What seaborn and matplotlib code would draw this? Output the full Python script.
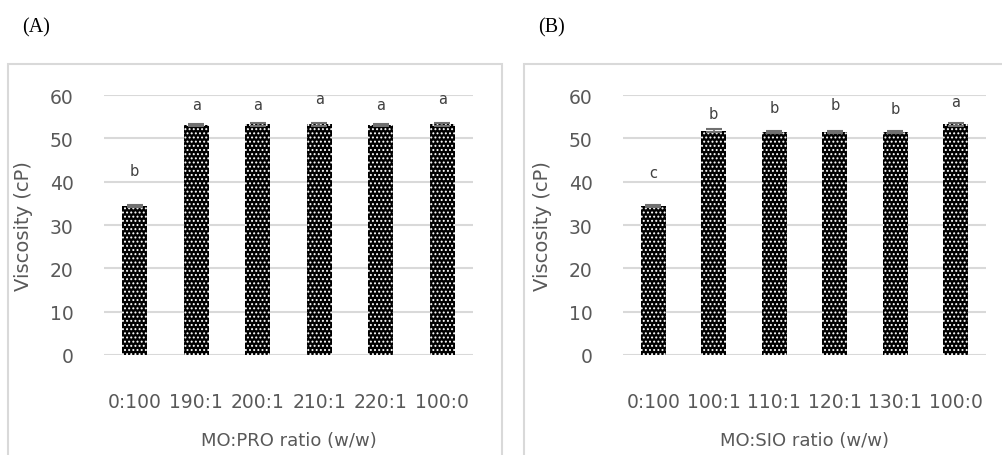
"""Viscosity of MO:PRO and MO:SIO blends, two panel bar chart"""
import matplotlib
matplotlib.use("Agg")
import matplotlib.pyplot as plt
import seaborn as sns
import pandas as pd
from matplotlib.patches import Rectangle

# Panel A - MO:PRO
ratios_a = ["0:100", "190:1", "200:1", "210:1", "220:1", "100:0"]
visc_a = [34.3, 53.0, 53.2, 53.2, 53.0, 53.2]
sd_a = [0.25, 0.25, 0.25, 0.25, 0.25, 0.25]
letters_a = ["b", "a", "a", "a", "a", "a"]
letter_y_a = [42.5, 57.7, 57.7, 59.3, 57.7, 59.3]

# Panel B - MO:SIO
ratios_b = ["0:100", "100:1", "110:1", "120:1", "130:1", "100:0"]
visc_b = [34.3, 51.8, 51.4, 51.5, 51.5, 53.2]
sd_b = [0.25, 0.3, 0.25, 0.25, 0.3, 0.35]
letters_b = ["c", "b", "b", "b", "b", "a"]
letter_y_b = [42.2, 55.8, 57.2, 57.9, 57.0, 58.6]

sns.set_theme(style="white")
plt.rcParams["font.family"] = ["DejaVu Sans"]
plt.rcParams["hatch.linewidth"] = 0.9

TXT = "#595959"
GRID = "#d9d9d9"

fig = plt.figure(figsize=(10.03, 4.56), dpi=100)

# panel frames (grey boxes)
fig.patches.append(Rectangle((8 / 1003, -0.01), 494 / 1003, (456 - 65) / 456 + 0.01,
                             transform=fig.transFigure, fill=False,
                             edgecolor=GRID, linewidth=1.5))
fig.patches.append(Rectangle((524 / 1003, -0.01), 0.5, (456 - 65) / 456 + 0.01,
                             transform=fig.transFigure, fill=False,
                             edgecolor=GRID, linewidth=1.5))

fig.text(22 / 1003, 1 - 28 / 456, "(A)", family="Liberation Serif", fontsize=14.5,
         color="black", va="center")
fig.text(538 / 1003, 1 - 28 / 456, "(B)", family="Liberation Serif", fontsize=14.5,
         color="black", va="center")


def draw_panel(rect, ratios, visc, sd, letters, letter_y, xlabel):
    ax = fig.add_axes(rect)
    df = pd.DataFrame({"ratio": ratios, "visc": visc})
    sns.barplot(data=df, x="ratio", y="visc", ax=ax, color="black", saturation=1,
                width=0.41, errorbar=None, edgecolor="white", linewidth=0,
                hatch="....", zorder=3)
    ax.errorbar(range(len(ratios)), visc, yerr=sd, fmt="none", ecolor="#707070",
                elinewidth=1.2, capsize=6, capthick=1.5, zorder=4)
    for i, (lt, ly) in enumerate(zip(letters, letter_y)):
        ax.text(i, ly, lt, ha="center", va="center", fontsize=10.5, color="#404040")
    ax.set_ylim(0, 60)
    ax.set_xlim(-0.5, len(ratios) - 0.5)
    ax.set_yticks(range(0, 61, 10))
    ax.yaxis.grid(True, color=GRID, linewidth=1.5, zorder=0)
    ax.set_axisbelow(True)
    for s in ax.spines.values():
        s.set_visible(False)
    ax.tick_params(axis="y", length=0, pad=22, labelsize=13.5, labelcolor=TXT)
    ax.tick_params(axis="x", length=0, pad=27, labelsize=13.5, labelcolor=TXT)
    ax.set_xlabel(xlabel, fontsize=13, color=TXT, labelpad=14)
    ax.set_ylabel("Viscosity (cP)", fontsize=14, color=TXT)
    return ax


ax_a = draw_panel([104 / 1003, 100 / 456, 369 / 1003, 260 / 456],
                  ratios_a, visc_a, sd_a, letters_a, letter_y_a, "MO:PRO ratio (w/w)")
ax_a.yaxis.set_label_coords(-(104 - 33) / 369, 0.5)

ax_b = draw_panel([623 / 1003, 100 / 456, 363 / 1003, 260 / 456],
                  ratios_b, visc_b, sd_b, letters_b, letter_y_b, "MO:SIO ratio (w/w)")
ax_b.yaxis.set_label_coords(-(623 - 552) / 363, 0.5)

fig.savefig("out.png", dpi=100)
